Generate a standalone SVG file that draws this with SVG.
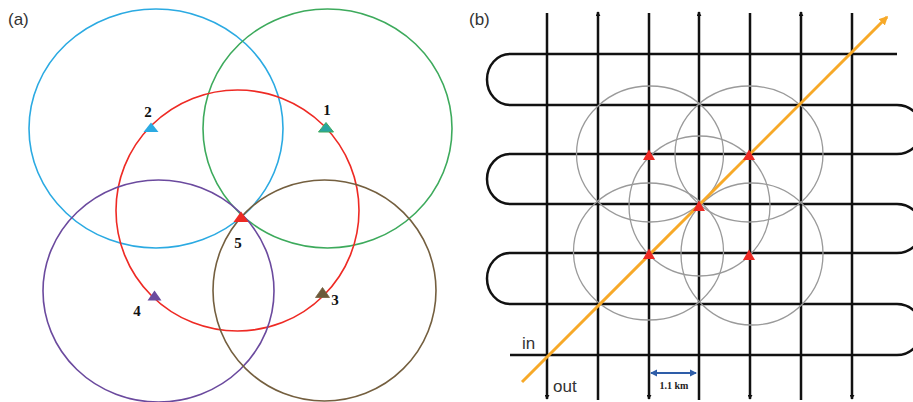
<svg xmlns="http://www.w3.org/2000/svg" width="913" height="402" viewBox="0 0 913 402">
<defs>
<style>
.lbl{font-family:"Liberation Sans",Arial,sans-serif;font-size:17px;fill:#333}
.num{font-family:"Liberation Serif","Times New Roman",serif;font-size:15px;font-weight:bold;fill:#111;text-anchor:middle}
.ring{fill:none;stroke-width:1.6}
.gray{fill:none;stroke:#9a9a9a;stroke-width:1.3}
.road{fill:none;stroke:#111;stroke-width:2.5}
.tri{fill:#ee2a24}
</style>
<marker id="tip" viewBox="0 0 6 6" refX="5" refY="3" markerWidth="2" markerHeight="2" orient="auto">
<path d="M0,0 L6,3 L0,6 Z" fill="#111"/>
</marker>
<marker id="otip" viewBox="0 0 6 6" refX="5" refY="3" markerWidth="3" markerHeight="3" orient="auto">
<path d="M0,0 L6,3 L0,6 Z" fill="#f7a928"/>
</marker>
<marker id="btip" viewBox="0 0 6 6" refX="5" refY="3" markerWidth="4" markerHeight="4" orient="auto-start-reverse">
<path d="M0,0 L6,3 L0,6 Z" fill="#2e5da8"/>
</marker>
</defs>
<rect width="913" height="402" fill="#fff"/>

<!-- Panel (a) -->
<g id="panel-a">
<text class="lbl" x="8" y="25">(a)</text>
<g id="ring-blue"><ellipse class="ring" cx="156" cy="128.5" rx="127" ry="119.5" stroke="#2baae2"/></g>
<g id="ring-green"><ellipse class="ring" cx="327.5" cy="128.5" rx="124.5" ry="119.5" stroke="#3daa5c"/></g>
<g id="ring-red"><ellipse class="ring" cx="237.5" cy="210.5" rx="121.5" ry="120.5" stroke="#ee2a24"/></g>
<g id="ring-purple"><ellipse class="ring" cx="158.5" cy="291" rx="115.5" ry="111" stroke="#6b4a9e"/></g>
<g id="ring-brown"><ellipse class="ring" cx="324.5" cy="290.5" rx="111.5" ry="110.5" stroke="#745f3f"/></g>

<g id="station-2"><polygon points="151,122.5 143.5,132 158.5,132" fill="#2baae2"/><text class="num" x="148" y="117">2</text></g>
<g id="station-1"><polygon points="326,122.5 318.5,132 333.5,132" fill="#2aa5a0" stroke="#3daa5c" stroke-width="1"/><text class="num" x="327" y="115">1</text></g>
<g id="station-5"><polygon points="241,211.5 233.5,222 248.5,222" fill="#ee2a24"/><text class="num" x="238" y="248">5</text></g>
<g id="station-4"><polygon points="154.5,290.5 147.5,300.5 161.5,300.5" fill="#6b4a9e"/><text class="num" x="137" y="316">4</text></g>
<g id="station-3"><polygon points="322.5,287.5 315.5,297.5 329.5,297.5" fill="#6b5a3a" stroke="#745f3f" stroke-width="0.8"/><text class="num" x="335" y="305">3</text></g>
</g>

<!-- Panel (b) -->
<g id="panel-b">
<text class="lbl" x="469" y="25">(b)</text>
<g id="grid">
<line class="road" x1="547" y1="13" x2="547" y2="399" marker-end="url(#tip)"/>
<line class="road" x1="598" y1="400" x2="598" y2="12" marker-end="url(#tip)"/>
<line class="road" x1="649" y1="13" x2="649" y2="399" marker-end="url(#tip)"/>
<line class="road" x1="699" y1="400" x2="699" y2="12" marker-end="url(#tip)"/>
<line class="road" x1="750" y1="13" x2="750" y2="399" marker-end="url(#tip)"/>
<line class="road" x1="801" y1="400" x2="801" y2="12" marker-end="url(#tip)"/>
<line class="road" x1="852" y1="13" x2="852" y2="399" marker-end="url(#tip)"/>
<path class="road" d="M897 54 H510 A23 25.5 0 0 0 510 105 H897 A25 24.5 0 0 1 897 154 H510 A23 25 0 0 0 510 204 H897 A25 24.5 0 0 1 897 253 H510 A23 25.5 0 0 0 510 304 H897 A25 25.5 0 0 1 897 355 H510"/>
</g>
<g id="coverage">
<ellipse class="gray" cx="650" cy="154" rx="73.5" ry="68"/>
<ellipse class="gray" cx="749" cy="154" rx="74" ry="68"/>
<ellipse class="gray" cx="699.5" cy="206" rx="70.5" ry="70"/>
<ellipse class="gray" cx="648.5" cy="251.5" rx="75" ry="68.5"/>
<ellipse class="gray" cx="752" cy="254" rx="71" ry="71"/>
</g>
<g id="profile">
<line x1="522" y1="382" x2="887" y2="17" stroke="#f7a928" stroke-width="3" marker-end="url(#otip)"/>
</g>
<g id="stations-b">
<polygon class="tri" points="649,149.5 643,160 655,160"/>
<polygon class="tri" points="749,149.5 743,160 755,160"/>
<polygon class="tri" points="699,200.5 693,211 705,211"/>
<polygon class="tri" points="649,248.5 643,259 655,259"/>
<polygon class="tri" points="749,249.5 743,260 755,260"/>
</g>
<g id="scale">
<line x1="651" y1="373" x2="696" y2="373" stroke="#2e5da8" stroke-width="1.8" marker-start="url(#btip)" marker-end="url(#btip)"/>
<text x="674" y="389" font-family="Liberation Serif,'Times New Roman',serif" font-size="10" font-weight="bold" fill="#222" text-anchor="middle">1.1 km</text>
</g>
<text class="lbl" x="522" y="349" font-size="19">in</text>
<text class="lbl" x="553" y="392" font-size="19">out</text>
</g>
</svg>
